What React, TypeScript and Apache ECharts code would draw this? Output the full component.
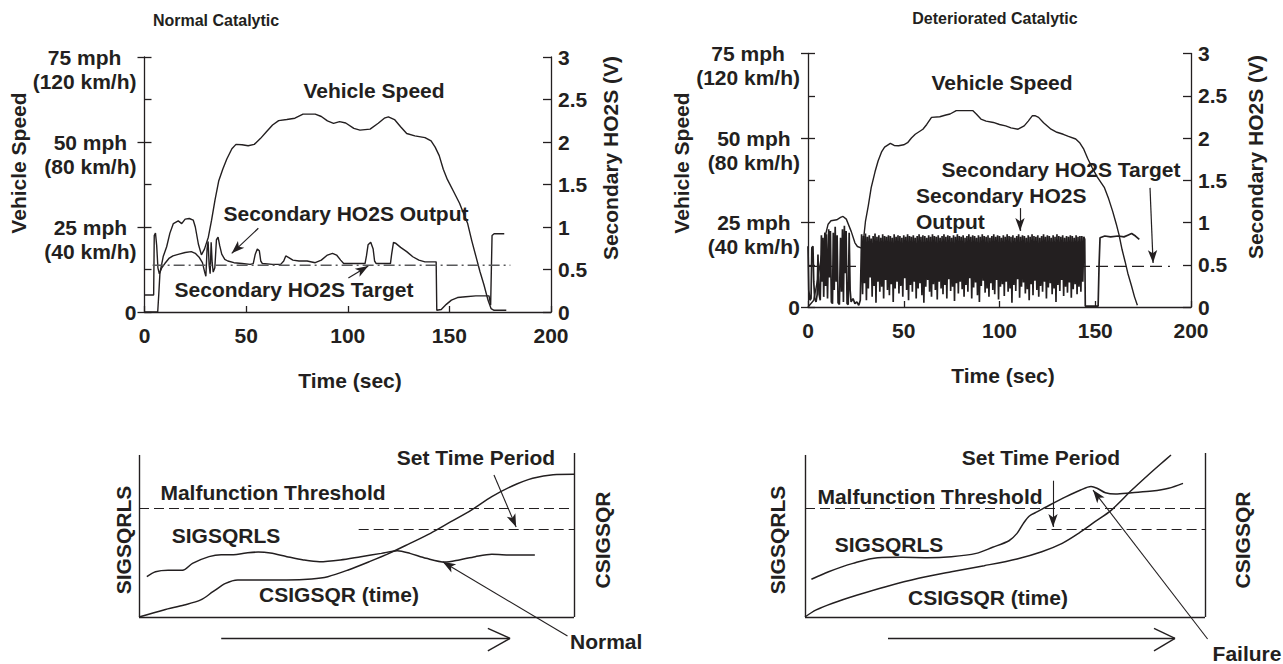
import React, { useEffect, useRef } from "react";
import * as echarts from "echarts";

const INK = "#231f20";
const FONT = '"Liberation Sans", Arial, Helvetica, sans-serif';

// ---------- shared axis ticks ----------
const TIME_MIN = 0;
const TIME_MAX = 200;
const TIME_STEP = 50;
const SPEED_MPH_TICKS = [0, 25, 50, 75];
const SPEED_KMH_TICKS = ["", "(40 km/h)", "(80 km/h)", "(120 km/h)"];
const VOLT_MAX = 3;
const VOLT_STEP = 0.5;

// ---------- Normal catalytic (top left) ----------
const normalSpeedTime = [0, 6.5, 7, 7.6, 9.2, 10.9, 12.5, 14.2, 16.6, 18.3, 20, 22, 24, 25, 26.5, 28, 29.5, 31.4, 33, 34.7, 36.5, 38.5, 40.5, 43, 45, 48, 51, 54, 57, 60, 63, 66, 70, 74, 78, 84, 87, 90, 93, 96, 99, 103, 106, 111, 115, 118, 120, 123, 126, 129, 133, 138, 141, 143, 145, 147, 149, 152, 155, 157, 159, 161, 163, 165, 167, 169, 170.5, 172, 178];
const normalSpeedMph = [0, 0, 5, 11.5, 16.3, 19.2, 23.2, 26, 26.8, 26, 27.3, 27.5, 27, 25, 20, 16.8, 18.5, 22, 27, 33, 38.5, 42, 45, 48, 49.3, 49.2, 48.9, 49.3, 51, 53, 55, 56.3, 56.6, 57, 58.2, 58.2, 57.5, 56.2, 55.5, 56, 55.6, 54, 53.5, 53.8, 55.5, 57, 57.4, 56.6, 54.5, 52.5, 51.8, 51.3, 50.3, 48.5, 46, 42, 39, 35.5, 32, 29, 26, 21, 16.5, 12, 8, 3.5, 1, 0.5, 0.5];
const normalHo2sTime = [0, 4.5, 4.8, 5.4, 6, 6.6, 7.3, 8.5, 10, 12, 14, 17, 20, 23, 25, 27, 28.5, 29.5, 30.2, 30.8, 31.3, 31.8, 32.3, 32.8, 33.3, 33.8, 34.6, 35.4, 36.2, 37, 38, 39.5, 41, 44, 48, 52, 53.5, 54.5, 55.5, 56.5, 57.2, 58, 63, 67, 68.5, 69.5, 71, 73, 76, 80, 84, 87, 90, 92.5, 94.5, 96.5, 98, 103, 108.5, 109.2, 110, 111.3, 112.5, 113.2, 114, 121, 121.6, 122.5, 123.5, 126, 129, 132, 135, 138, 143.5, 143.8, 146, 148.5, 151, 154, 158, 163, 169.5, 170.3, 171, 172, 177];
const normalHo2sVolt = [0.2, 0.2, 0.9, 0.93, 0.78, 0.52, 0.45, 0.52, 0.57, 0.63, 0.66, 0.68, 0.7, 0.71, 0.69, 0.64, 0.58, 0.48, 0.42, 0.75, 0.83, 0.55, 0.45, 0.82, 0.58, 0.47, 0.52, 0.85, 0.88, 0.78, 0.68, 0.62, 0.6, 0.58, 0.57, 0.56, 0.57, 0.68, 0.74, 0.72, 0.6, 0.57, 0.56, 0.56, 0.6, 0.66, 0.64, 0.61, 0.6, 0.6, 0.58, 0.61, 0.67, 0.69, 0.67, 0.61, 0.57, 0.57, 0.57, 0.66, 0.79, 0.82, 0.74, 0.6, 0.57, 0.57, 0.68, 0.82, 0.81, 0.76, 0.71, 0.65, 0.61, 0.59, 0.59, 0.02, 0.03, 0.09, 0.14, 0.17, 0.18, 0.19, 0.19, 0.08, 0.9, 0.92, 0.92];
const normalTargetTime = [4, 180];
const normalTargetVolt = [0.55, 0.55];

// ---------- Deteriorated catalytic (top right) ----------
const detSpeedTime = [0, 3, 5, 7, 9, 10.5, 12, 15, 17, 18.3, 20, 22.6, 24.5, 25.8, 28, 29, 30, 31.5, 33, 35, 36.6, 38.5, 40, 43, 45, 47.3, 50, 52, 54, 56, 60, 62, 64.5, 68.8, 72, 74.2, 77.4, 86, 88, 90.3, 93, 96.8, 100, 103.2, 106, 109.7, 112.9, 115, 117.2, 118.5, 120.4, 123, 126.9, 130, 133.3, 136, 139.8, 142, 144, 146, 148.4, 151, 154.8, 157, 159.1, 161, 162.4, 164, 165.6, 167, 168.8, 170.5, 172];
const detSpeedMph = [0, 2, 8, 15, 21, 24.5, 25.5, 25.8, 26.5, 26.8, 26, 22.3, 19, 17.9, 17.4, 20, 25.3, 30, 35.3, 40, 43.2, 46, 47.3, 48.4, 47.8, 47.7, 48, 48.6, 50, 51.1, 52.6, 54, 56.1, 56.3, 56.8, 57.1, 58.1, 58.1, 57, 55.6, 55, 54.6, 54, 53.6, 53, 52.6, 53.6, 55, 56.6, 56.6, 56.1, 54.5, 52.6, 51.7, 51.1, 50.5, 49.7, 48.5, 46.7, 44, 41.2, 38.5, 35.3, 32, 28.3, 24.5, 21.4, 17, 13.4, 10, 6.5, 3, 0.5];
// sparse switching during the first seconds
const detHo2sEarlyTime = [0, 0.4, 1, 1.6, 2, 2.6, 3, 3.5, 4.2, 4.8, 5.2, 5.8, 6.4, 7, 7.4, 7.8, 8.2, 8.8, 9.2, 9.6, 10.2, 10.8, 11.2, 11.7, 12.2, 12.8, 13.2, 13.7, 14.2, 14.7, 15.2, 15.7, 16.4, 17, 17.5, 18, 18.5, 19, 19.4, 19.9, 20.4, 21, 21.5, 22, 22.5, 23.5, 24.5, 25.5, 26.5, 27.3];
const detHo2sEarlyVolt = [0.72, 0.2, 0.08, 0.1, 0.7, 0.72, 0.3, 0.1, 0.06, 0.15, 0.62, 0.15, 0.08, 0.85, 0.3, 0.82, 0.12, 0.88, 0.25, 0.86, 0.1, 0.92, 0.35, 0.9, 0.06, 0.04, 0.88, 0.2, 0.95, 0.3, 0.85, 0.05, 0.03, 0.82, 0.18, 0.92, 0.06, 0.96, 0.4, 0.9, 0.04, 0.03, 0.88, 0.2, 0.06, 0.1, 0.04, 0.06, 0.02, 0.08];
// dense switching: one high and one low reading per second, sampled every 0.5 s from 28 s
const DET_DENSE_START = 28;
const DET_DENSE_STEP = 0.5;
const detDenseHigh = [
  0.86, 0.84, 0.87, 0.83, 0.85, 0.81, 0.84, 0.87, 0.83, 0.85,
  0.82, 0.86, 0.84, 0.83, 0.85, 0.84, 0.82, 0.86, 0.83, 0.85,
  0.84, 0.82, 0.85, 0.83, 0.86, 0.84, 0.83, 0.85, 0.82, 0.84,
  0.86, 0.83, 0.85, 0.84, 0.82, 0.85, 0.83, 0.86, 0.84, 0.83,
  0.85, 0.82, 0.84, 0.86, 0.83, 0.85, 0.84, 0.82, 0.85, 0.83,
  0.86, 0.84, 0.83, 0.85, 0.82, 0.84, 0.86, 0.83, 0.85, 0.84,
  0.82, 0.85, 0.83, 0.86, 0.84, 0.83, 0.85, 0.82, 0.84, 0.86,
  0.83, 0.85, 0.84, 0.82, 0.85, 0.83, 0.86, 0.84, 0.83, 0.85,
  0.82, 0.84, 0.86, 0.83, 0.85, 0.84, 0.82, 0.85, 0.83, 0.86,
  0.84, 0.83, 0.85, 0.82, 0.84, 0.86, 0.83, 0.85, 0.84, 0.82,
  0.85, 0.83, 0.86, 0.84, 0.83, 0.85, 0.82, 0.84, 0.83, 0.85,
  0.84, 0.82, 0.85, 0.83, 0.84,
];
const detDenseLow = [
  0.15, 0.28, 0.08, 0.22, 0.35, 0.12, 0.25, 0.05, 0.3, 0.18,
  0.24, 0.1, 0.32, 0.2, 0.14, 0.27, 0.06, 0.22, 0.3, 0.16,
  0.25, 0.12, 0.34, 0.2, 0.08, 0.26, 0.18, 0.3, 0.1, 0.22,
  0.28, 0.14, 0.05, 0.24, 0.32, 0.18, 0.12, 0.27, 0.2, 0.09,
  0.3, 0.22, 0.15, 0.26, 0.1, 0.33, 0.19, 0.24, 0.07, 0.28,
  0.16, 0.3, 0.21, 0.12, 0.26, 0.18, 0.34, 0.1, 0.23, 0.29,
  0.14, 0.06, 0.25, 0.31, 0.17, 0.22, 0.12, 0.28, 0.2, 0.15,
  0.32, 0.09, 0.24, 0.27, 0.13, 0.3, 0.18, 0.22, 0.05, 0.26,
  0.19, 0.33, 0.11, 0.24, 0.29, 0.16, 0.21, 0.08, 0.27, 0.14,
  0.31, 0.2, 0.12, 0.25, 0.18, 0.3, 0.1, 0.23, 0.28, 0.15,
  0.22, 0.06, 0.26, 0.19, 0.32, 0.13, 0.24, 0.17, 0.29, 0.11,
  0.21, 0.27, 0.15, 0.24, 0.18,
];
const detHo2sLateTime = [143, 143.5, 144, 144.5, 144.8, 151.5, 152, 152.5, 155, 158, 162, 165, 167, 169, 171, 173];
const detHo2sLateVolt = [0.84, 0.3, 0.83, 0.8, 0.01, 0.01, 0.5, 0.82, 0.84, 0.83, 0.84, 0.83, 0.85, 0.87, 0.84, 0.8];
const detTargetTime = [0, 189];
const detTargetVolt = [0.48, 0.48];

// ---------- Lower diagrams (schematic units 0..100) ----------
const nSigsqrlsX = [1.8, 3.8, 6.7, 10, 12.3, 16.1, 18.9, 21.7, 24.6, 27.4, 30.2, 34, 37.8, 41.5, 46.3, 51, 55.7, 59.4, 62.3, 66, 70.3, 73.6, 77.3, 81.1, 85.8, 91];
const nSigsqrlsY = [24.6, 27.6, 28.5, 28.5, 32.7, 36.8, 38, 38, 39, 39.6, 39, 36.8, 34.8, 33.7, 34.8, 36.8, 38.8, 40.4, 38.8, 35.8, 33.5, 34.8, 36.8, 38.2, 37.8, 37.8];
const nCsigsqrX = [0, 5.7, 10.4, 14.2, 17, 19.9, 22.7, 28.3, 34, 39.7, 43.4, 48.1, 52.9, 57.5, 62.3, 67, 71.7, 76.4, 81.1, 85.8, 90.5, 95.2, 100];
const nCsigsqrY = [0, 4.3, 7.3, 10.4, 15.4, 20.5, 22.6, 22.6, 22.6, 23.2, 24.6, 28.7, 33.7, 38.8, 44.9, 51, 58.1, 65.2, 73.4, 79.9, 84.6, 86.8, 87];
const nThreshold = 66.3;
const nSetTimeLevel = 53.5;
const nSetTimeStart = 50.5;

const fSigsqrlsX = [1.6, 5.9, 12, 18.2, 24.3, 30.5, 36.6, 42.8, 46.9, 51, 53, 54.6, 56.1, 58.1, 61.2, 65.3, 68.9, 71.5, 73, 75.1, 77.6, 81.7, 86.8, 90.9, 94.5];
const fSigsqrlsY = [23, 27.6, 32.7, 36.2, 36.4, 36.2, 36.8, 38.8, 42.5, 46.5, 51, 57.1, 61.6, 64.2, 68.3, 73.4, 77.4, 79.5, 78.5, 75.8, 75, 75.8, 76.8, 78.5, 81.5];
const fCsigsqrX = [0, 2.8, 6.9, 13.1, 20.2, 28.4, 36.6, 44.8, 53, 59.2, 64.3, 68.4, 72.5, 76.6, 81.7, 85.8, 88.9, 91.5];
const fCsigsqrY = [0, 4.3, 8.4, 13.4, 18.5, 23.6, 27.6, 31.3, 35.4, 39.8, 44.9, 51, 58.1, 65.2, 77.4, 86.6, 93.3, 98.8];
const fThreshold = 66.5;
const fSetTimeLevel = 53.7;
const fSetTimeStart = 57.9;

// ---------- helpers ----------
const zip = (xs: number[], ys: number[]) => xs.map((x, i) => [x, ys[i]]);

function buildDetHo2s() {
  const pts = zip(detHo2sEarlyTime, detHo2sEarlyVolt);
  detDenseHigh.forEach((h, i) => {
    const t = DET_DENSE_START + i * 2 * DET_DENSE_STEP;
    pts.push([t, h]);
    pts.push([t + DET_DENSE_STEP, detDenseLow[i]]);
  });
  return pts.concat(zip(detHo2sLateTime, detHo2sLateVolt));
}

type P = number[];
const seg = (a: P, b: P, arrow = false) => [
  { coord: a, symbol: "none" },
  { coord: b, symbol: arrow ? "arrow" : "none" },
];

const markLine = (data: any[], width = 1.2, type: any = "solid") => ({
  silent: true,
  animation: false,
  symbol: ["none", "none"],
  symbolSize: [7, 13],
  label: { show: false },
  emphasis: { disabled: true },
  lineStyle: { color: INK, width, type, opacity: 1 },
  data,
});

const lineSeries = (xi: number, yi: number, data: any[], width = 1.4, extra: any = {}) => ({
  type: "line",
  xAxisIndex: xi,
  yAxisIndex: yi,
  data,
  showSymbol: false,
  symbol: "none",
  silent: true,
  animation: false,
  lineStyle: { color: INK, width },
  emphasis: { disabled: true },
  ...extra,
});

const boldText = { color: INK, fontSize: 21, fontWeight: "bold" as const, fontFamily: FONT };

function speedAxis(grid: number) {
  return {
    type: "value",
    gridIndex: grid,
    position: "left",
    min: 0,
    max: 75,
    interval: 12.5,
    axisLine: { show: true, onZero: false, lineStyle: { color: INK, width: 1.3 } },
    axisTick: { show: true, inside: true, length: 7, lineStyle: { color: INK, width: 1.3 } },
    splitLine: { show: false },
    axisLabel: {
      ...boldText,
      align: "right",
      margin: 8,
      showMinLabel: true,
      showMaxLabel: true,
      formatter: (v: number) => {
        const i = SPEED_MPH_TICKS.indexOf(v);
        if (i < 0) return "";
        if (v === 0) return "{z|0}";
        return `{e| }\n{c|${v} mph}\n{c|${SPEED_KMH_TICKS[i]}}`;
      },
      rich: {
        e: { ...boldText, lineHeight: 24 },
        c: { ...boldText, lineHeight: 24, align: "center" },
        z: { ...boldText, lineHeight: 21 },
      },
    },
  };
}
function speedOuterTicks(grid: number) {
  return {
    type: "value",
    gridIndex: grid,
    position: "left",
    min: 0,
    max: 75,
    interval: 25,
    axisLine: { show: false, onZero: false },
    axisTick: { show: true, inside: false, length: 7, lineStyle: { color: INK, width: 1.3 } },
    axisLabel: { show: false },
    splitLine: { show: false },
  };
}
function voltAxis(grid: number) {
  return {
    type: "value",
    gridIndex: grid,
    position: "right",
    min: 0,
    max: VOLT_MAX,
    interval: VOLT_STEP,
    axisLine: { show: true, onZero: false, lineStyle: { color: INK, width: 1.3 } },
    axisTick: { show: true, inside: true, length: 8, lineStyle: { color: INK, width: 1.3 } },
    splitLine: { show: false },
    axisLabel: { ...boldText, lineHeight: 20, margin: 7, showMinLabel: true, showMaxLabel: true },
  };
}
function timeAxis(grid: number) {
  return {
    type: "value",
    gridIndex: grid,
    min: TIME_MIN,
    max: TIME_MAX,
    interval: TIME_STEP,
    axisLine: { show: true, onZero: false, lineStyle: { color: INK, width: 1.3 } },
    axisTick: { show: true, inside: true, length: 6, lineStyle: { color: INK, width: 1.3 } },
    splitLine: { show: false },
    axisLabel: { ...boldText, lineHeight: 20, margin: 13, showMinLabel: true, showMaxLabel: true },
  };
}

type Label = { text: string; x: number; y: number; size?: number; rot?: boolean; align?: string };
const TEXTS: Label[] = [
  { text: "Normal Catalytic", x: 216, y: 20, size: 16 },
  { text: "Vehicle Speed", x: 374, y: 90 },
  { text: "Secondary HO2S Output", x: 346, y: 213 },
  { text: "Secondary HO2S Target", x: 294, y: 289 },
  { text: "Time (sec)", x: 350, y: 380 },
  { text: "Vehicle Speed", x: 18, y: 163, rot: true },
  { text: "Secondary HO2S (V)", x: 610, y: 158, rot: true },
  { text: "Deteriorated Catalytic", x: 995, y: 18, size: 16 },
  { text: "Vehicle Speed", x: 1002, y: 82 },
  { text: "Secondary HO2S Target", x: 1061, y: 169 },
  { text: "Secondary HO2S", x: 916, y: 195, align: "left" },
  { text: "Output", x: 916, y: 221, align: "left" },
  { text: "Time (sec)", x: 1003, y: 375 },
  { text: "Vehicle Speed", x: 681, y: 163, rot: true },
  { text: "Secondary HO2S (V)", x: 1255, y: 157, rot: true },
  { text: "Set Time Period", x: 476, y: 457 },
  { text: "Malfunction Threshold", x: 273, y: 492 },
  { text: "SIGSQRLS", x: 226, y: 535 },
  { text: "CSIGSQR (time)", x: 339, y: 594 },
  { text: "SIGSQRLS", x: 123, y: 540, rot: true },
  { text: "CSIGSQR", x: 602, y: 540, rot: true },
  { text: "Normal", x: 570, y: 641, align: "left" },
  { text: "Set Time Period", x: 1041, y: 457 },
  { text: "Malfunction Threshold", x: 930, y: 496 },
  { text: "SIGSQRLS", x: 889, y: 544 },
  { text: "CSIGSQR (time)", x: 988, y: 597 },
  { text: "SIGSQRLS", x: 777, y: 540, rot: true },
  { text: "CSIGSQR", x: 1242, y: 540, rot: true },
  { text: "Failure", x: 1247, y: 653 },
];

function buildOption() {
  const graphic = TEXTS.map((t) => ({
    type: "text",
    x: t.x,
    y: t.y,
    rotation: t.rot ? Math.PI / 2 : 0,
    silent: true,
    style: {
      text: t.text,
      fill: INK,
      fontSize: t.size || 21,
      fontWeight: "bold",
      fontFamily: FONT,
      align: t.align || "center",
      verticalAlign: "middle",
      textAlign: t.align || "center",
      textVerticalAlign: "middle",
    },
  }));

  const series: any[] = [
    // top left
    lineSeries(0, 0, zip(normalSpeedTime, normalSpeedMph), 1.4),
    lineSeries(0, 1, zip(normalHo2sTime, normalHo2sVolt), 1.4, {
      markLine: markLine([seg([56.0, 0.985], [42.9, 0.69], true), seg([100.3, 0.4], [110.1, 0.54], true)]),
    }),
    lineSeries(0, 1, zip(normalTargetTime, normalTargetVolt), 1.4, {
      lineStyle: { color: "#58595b", width: 1.4, type: [11, 4, 2, 4] },
    }),
    // top right
    lineSeries(1, 4, zip(detTargetTime, detTargetVolt), 1.3, {
      lineStyle: { color: INK, width: 1.3, type: [12, 6] },
    }),
    lineSeries(1, 4, buildDetHo2s(), 1.7, {
      markLine: markLine([seg([110.7, 1.17], [110.7, 0.9], true), seg([178.6, 1.41], [180.2, 0.52], true)]),
    }),
    lineSeries(1, 3, zip(detSpeedTime, detSpeedMph), 1.4),
    // bottom left
    lineSeries(2, 6, zip(nSigsqrlsX, nSigsqrlsY), 1.5, {
      smooth: 0.3,
      markLine: markLine([
        seg([0, 0], [0, 98.8]),
        seg([100, 0], [100, 100]),
        seg([0, 0], [100, 0]),
        seg([18.9, -13], [85.3, -13]),
        seg([80.2, -6.9], [85.3, -13]),
        seg([80.2, -20.7], [85.3, -13]),
      ], 1.4),
    }),
    lineSeries(2, 6, zip(nCsigsqrX, nCsigsqrY), 1.5, {
      smooth: 0.3,
      markLine: markLine([
        seg([0, nThreshold], [100, nThreshold]),
        seg([nSetTimeStart, nSetTimeLevel], [100, nSetTimeLevel]),
      ], 1.2, [10, 5]),
    }),
    lineSeries(2, 6, [], 1, {
      markLine: markLine([seg([81.6, 86.6], [86.7, 54.9], true), seg([98.5, -11.6], [69.8, 33.7], true)], 1.1),
    }),
    // bottom right
    lineSeries(3, 7, zip(fSigsqrlsX, fSigsqrlsY), 1.5, {
      smooth: 0.3,
      markLine: markLine([
        seg([0, 0], [0, 98.8]),
        seg([100, 0], [100, 100]),
        seg([0, 0], [100, 0]),
        seg([20.75, -13], [92.5, -13]),
        seg([87.25, -6.9], [92.5, -13]),
        seg([87.25, -20.7], [92.5, -13]),
      ], 1.4),
    }),
    lineSeries(3, 7, zip(fCsigsqrX, fCsigsqrY), 1.5, {
      smooth: 0.3,
      markLine: markLine([
        seg([0, fThreshold], [100, fThreshold]),
        seg([fSetTimeStart, fSetTimeLevel], [100, fSetTimeLevel]),
      ], 1.2, [10, 5]),
    }),
    lineSeries(3, 7, [], 1, {
      markLine: markLine([seg([62, 83.1], [62, 54.9], true), seg([100.65, -13.4], [72, 77.4], true)], 1.1),
    }),
  ];

  return {
    animation: false,
    backgroundColor: "#ffffff",
    textStyle: { fontFamily: FONT },
    grid: [
      { left: 144.5, top: 57, width: 406.5, height: 255 },
      { left: 808, top: 53.5, width: 383, height: 253.5 },
      { left: 95.5, top: 436.6, width: 522, height: 221.4 },
      { left: 765, top: 436.6, width: 480, height: 221.4 },
    ],
    xAxis: [
      timeAxis(0),
      timeAxis(1),
      { type: "value", gridIndex: 2, min: -10, max: 110, show: false },
      { type: "value", gridIndex: 3, min: -10, max: 110, show: false },
    ],
    yAxis: [
      speedAxis(0),
      voltAxis(0),
      speedOuterTicks(0),
      speedAxis(1),
      voltAxis(1),
      speedOuterTicks(1),
      { type: "value", gridIndex: 2, min: -25, max: 110, show: false },
      { type: "value", gridIndex: 3, min: -25, max: 110, show: false },
    ],
    series,
    graphic,
  };
}

export default function App() {
  const ref = useRef<HTMLDivElement>(null);
  useEffect(() => {
    if (!ref.current) return;
    const chart = echarts.init(ref.current, undefined, { renderer: "svg" });
    chart.setOption(buildOption() as any);
    return () => chart.dispose();
  }, []);
  return (
    <div
      ref={ref}
      style={{ position: "fixed", left: 0, top: 0, width: 1283, height: 664, background: "#fff" }}
    />
  );
}
